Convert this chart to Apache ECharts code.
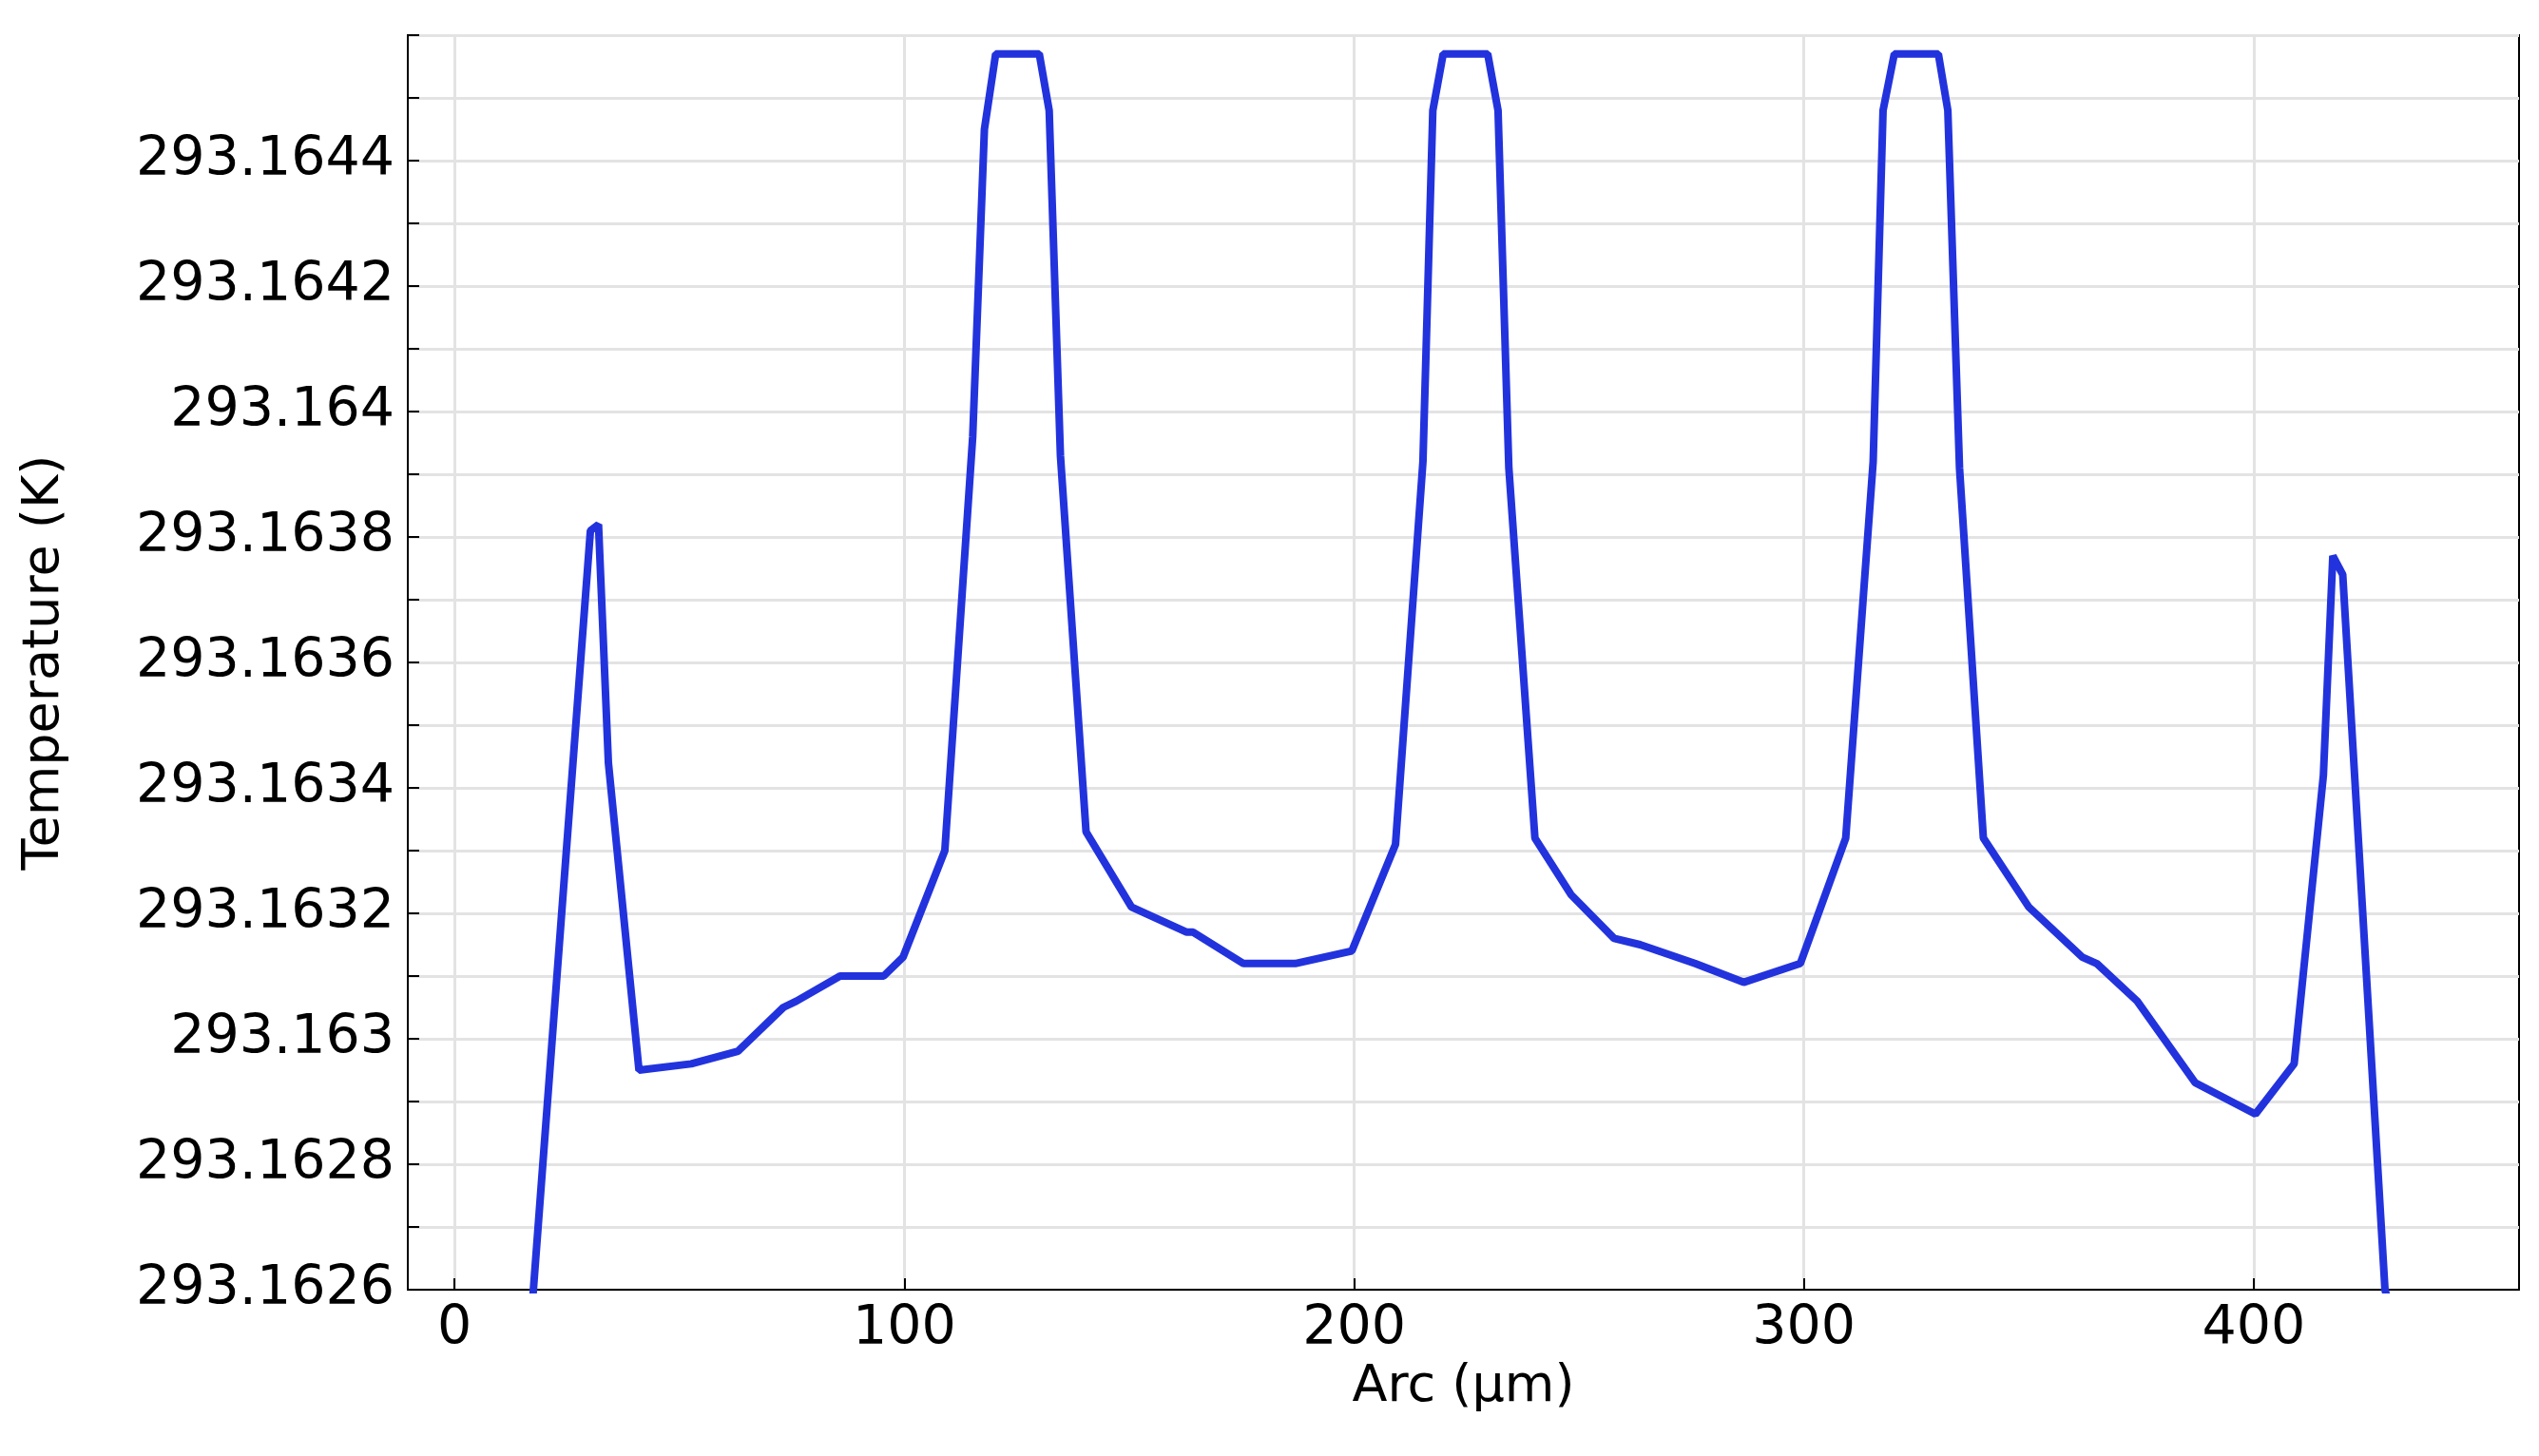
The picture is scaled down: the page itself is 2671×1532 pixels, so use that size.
<!DOCTYPE html>
<html><head><meta charset="utf-8">
<script src="https://cdn.jsdelivr.net/npm/echarts@6/dist/echarts.min.js"></script>
<style>html,body{margin:0;background:#fff}#c{width:2671px;height:1532px}</style>
</head><body><div id="c"></div>
<script>
const arc = [17,30.2,32,34.2,41,52.6,63,73.1,76,85.7,95.4,99.7,109,115.2,117.8,120.3,130,132.2,134.7,140.4,150.5,162.8,164.2,175.4,186.9,199.5,209.2,215.3,217.5,219.8,229.7,232,234.4,240.2,248.2,257.8,263.6,275.8,286.6,299.2,309.3,315.4,317.6,320.1,329.9,332,334.6,339.9,350,361.9,365.1,374.1,387,400.4,409,415.5,417.6,419.8,429.2,431];
const temp = [293.16255,293.16381,293.16382,293.16344,293.16295,293.16296,293.16298,293.16305,293.16306,293.16310,293.16310,293.16313,293.16330,293.16396,293.16445,293.16457,293.16457,293.16448,293.16393,293.16333,293.16321,293.16317,293.16317,293.16312,293.16312,293.16314,293.16331,293.16392,293.16448,293.16457,293.16457,293.16448,293.16391,293.16332,293.16323,293.16316,293.16315,293.16312,293.16309,293.16312,293.16332,293.16392,293.16448,293.16457,293.16457,293.16448,293.16391,293.16332,293.16321,293.16313,293.16312,293.16306,293.16293,293.16288,293.16296,293.16342,293.16377,293.16374,293.1626,293.16255];
const xTicks = [0,100,200,300,400];
const ch = echarts.init(document.getElementById('c'));
const font = 'DejaVu Sans';
ch.setOption({
  animation:false,
  grid:{left:429,right:21,top:37,bottom:175,show:true,borderColor:'#000',borderWidth:2,backgroundColor:'transparent'},
  xAxis:{type:'value',min:-10.4,max:459,
    name:'Arc (µm)',nameLocation:'middle',nameGap:72,
    nameTextStyle:{fontFamily:font,fontSize:54,color:'#000'},
    axisLine:{onZero:false,lineStyle:{color:'#000',width:2}},
    axisTick:{customValues:xTicks,inside:true,length:12,lineStyle:{color:'#000',width:2}},
    axisLabel:{customValues:xTicks,fontFamily:font,fontSize:57,color:'#000',margin:14},
    splitLine:{show:true,lineStyle:{color:'#e3e3e3',width:3}}},
  yAxis:{type:'value',min:293.1626,max:293.1646,interval:0.0001,
    name:'Temperature (K)',nameLocation:'middle',nameGap:355,
    nameTextStyle:{fontFamily:font,fontSize:54,color:'#000'},
    axisLine:{onZero:false,lineStyle:{color:'#000',width:2}},
    axisTick:{inside:true,length:12,lineStyle:{color:'#000',width:2}},
    axisLabel:{fontFamily:font,fontSize:57,color:'#000',margin:14,
      formatter:v=>{const k=Math.round(v*1e4);if(k%2!==0||k===2931646)return '';return (k/1e4).toFixed(4).replace(/0+$/,'');}},
    splitLine:{show:true,lineStyle:{color:'#e3e3e3',width:3}}},
  series:[{type:'line',data:arc.map((a,i)=>[a,temp[i]]),showSymbol:false,clip:true,
    lineStyle:{color:'#2233dd',width:8}}]
});
</script></body></html>
